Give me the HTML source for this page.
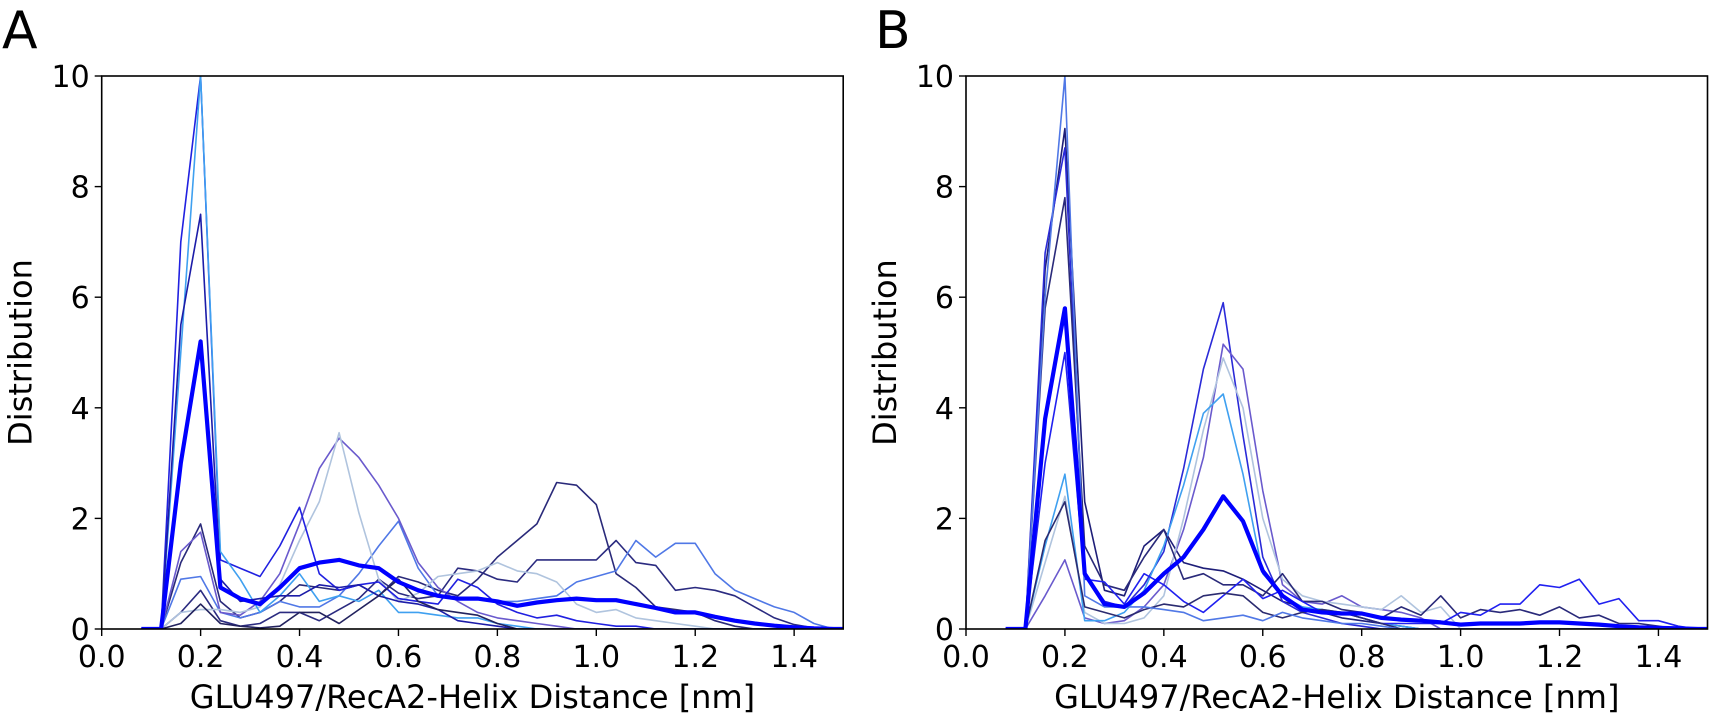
<!DOCTYPE html>
<html><head><meta charset="utf-8"><style>
html,body{margin:0;padding:0;background:#fff;}
svg{display:block;}
text{font-family:"DejaVu Sans","Liberation Sans",sans-serif;fill:#000;}
</style></head><body>
<svg id="s" width="1713" height="716" viewBox="0 0 1713 716" xmlns="http://www.w3.org/2000/svg"></svg>
<script>
const S=document.getElementById('s');
const NS='http://www.w3.org/2000/svg';
function el(t,a,txt){const e=document.createElementNS(NS,t);for(const k in a)e.setAttribute(k,a[k]);if(txt!==undefined)e.textContent=txt;S.appendChild(e);return e;}
const xs=[];for(let i=0;i<37;i++)xs.push(0.08+0.04*i);
function pad(a){while(a.length<37)a.push(0);return a;}
const A={
 mean:[0,0,3.0,5.2,0.75,0.55,0.45,0.75,1.1,1.2,1.25,1.15,1.1,0.85,0.7,0.6,0.55,0.55,0.5,0.42,0.48,0.52,0.55,0.52,0.52,0.45,0.38,0.3,0.3,0.22,0.15,0.1,0.06,0.03,0.01,0,0],
 s:[
 ['#2a2a7a',[0,0,1.2,1.9,0.5,0.2,0.3,0.5,0.8,0.75,0.7,0.8,0.6,0.95,0.85,0.7,0.6,0.9,1.3,1.6,1.9,2.65,2.6,2.25,1.0,0.75,0.4,0.35,0.3,0.15,0.05]],
 ['#2b2b80',[0,0,0.3,0.7,0.15,0.05,0.1,0.3,0.3,0.15,0.35,0.55,0.9,0.65,0.55,0.6,1.1,1.05,0.9,0.85,1.25,1.25,1.25,1.25,1.6,1.2,1.15,0.7,0.75,0.7,0.6,0.4,0.2,0.08,0.02]],
 ['#5078e6',[0,0,0.9,0.95,0.3,0.2,0.3,0.5,0.4,0.4,0.6,1.0,1.5,1.95,1.1,0.6,0.55,0.55,0.5,0.5,0.55,0.6,0.85,0.95,1.05,1.6,1.3,1.55,1.55,1.0,0.7,0.55,0.4,0.3,0.1]],
 ['#6a5acd',[0,0,1.4,1.75,0.3,0.25,0.5,1.0,1.9,2.9,3.45,3.1,2.6,2.0,1.2,0.75,0.5,0.3,0.2,0.15,0.1,0.05]],
 ['#b0c4de',[0,0,0.3,0.35,0.35,0.3,0.4,0.8,1.6,2.3,3.55,2.1,0.9,0.5,0.65,0.95,1.0,1.05,1.2,1.05,1.0,0.85,0.45,0.3,0.35,0.2,0.15,0.1,0.05]],
 ['#2020e0',[0,0,7.0,10.0,1.25,1.1,0.95,1.5,2.2,1.0,0.7,0.8,0.85,0.55,0.5,0.45,0.9,0.75,0.45,0.3,0.2,0.25,0.15,0.1,0.05,0.05]],
 ['#3fa0f0',[0,0,5,10.0,1.4,0.9,0.3,0.6,1.0,0.5,0.6,0.5,0.7,0.3,0.3,0.25,0.2,0.2,0.1,0.05]],
 ['#1c1ca8',[0,0,5.5,7.5,0.9,0.5,0.55,0.6,0.6,0.8,0.75,0.8,0.6,0.5,0.45,0.35,0.15,0.1,0.05]],
 ['#22225e',[0,0,0.1,0.45,0.1,0.05,0.02,0.05,0.3,0.3,0.1,0.35,0.6,0.9,0.5,0.35,0.3,0.25,0.1]]
 ]};
const B={
 mean:[0,0,3.8,5.8,1.0,0.45,0.4,0.65,1.0,1.3,1.8,2.4,1.95,1.05,0.6,0.35,0.3,0.28,0.28,0.2,0.17,0.15,0.12,0.08,0.1,0.1,0.1,0.12,0.12,0.1,0.08,0.05,0.03,0.02,0.01,0,0],
 s:[
 ['#1e1e78',[0,0,6.5,9.05,2.3,0.7,0.6,1.5,1.8,1.2,1.1,1.05,0.9,0.7,0.5,0.4,0.3,0.2,0.15,0.1,0.05]],
 ['#2a2ad8',[0,0,6.8,8.7,1.0,0.5,0.4,0.8,1.4,2.9,4.7,5.9,3.5,1.3,0.5,0.3,0.2,0.1,0.05]],
 ['#6a5acd',[0,0,0.6,1.25,0.2,0.1,0.15,0.4,0.8,1.8,3.1,5.15,4.7,2.5,0.8,0.5,0.45,0.6,0.4,0.35,0.3,0.2]],
 ['#b0c4de',[0,0,1.2,2.4,0.3,0.1,0.1,0.2,0.6,2.0,3.6,4.9,4.0,2.0,0.9,0.6,0.5,0.45,0.4,0.35,0.6,0.3,0.4]],
 ['#3fa0f0',[0,0,1.5,2.8,0.15,0.15,0.3,0.7,1.5,2.6,3.9,4.25,2.8,1.0,0.6,0.4,0.35,0.3,0.2,0.1,0.05]],
 ['#2a2a7a',[0,0,5.8,7.8,1.5,0.8,0.7,1.3,1.8,0.9,1.0,0.8,0.8,0.6,1.0,0.5,0.5,0.35,0.3,0.2,0.4,0.25,0.6,0.2,0.35,0.3,0.35,0.25,0.4,0.2,0.25,0.1,0.1,0.05]],
 ['#2020f0',[0,0,3.0,5.0,0.9,0.85,0.45,1.0,0.8,0.5,0.3,0.6,0.9,0.55,0.7,0.5,0.3,0.3,0.2,0.1,0.1,0.1,0.1,0.3,0.25,0.45,0.45,0.8,0.75,0.9,0.45,0.55,0.15,0.15,0.05]],
 ['#2b2b70',[0,0,1.6,2.3,0.4,0.3,0.2,0.35,0.45,0.4,0.6,0.65,0.6,0.3,0.2,0.3,0.35,0.3,0.2,0.1]],
 ['#5078e6',[0,0,6.0,10.0,0.6,0.4,0.4,0.4,0.35,0.3,0.15,0.2,0.25,0.15,0.3,0.2,0.15,0.1,0.1,0.05]]
 ]};
function panel(x0,D,lab){
 const x1=x0+741.5,y0=76,y1=629;
 const px=v=>x0+v*494.6, py=v=>y1-v*55.3;
 const cid='c'+lab;
 const cp=el('clipPath',{id:cid});
 const r=document.createElementNS(NS,'rect');r.setAttribute('x',x0);r.setAttribute('y',y0);r.setAttribute('width',x1-x0);r.setAttribute('height',y1-y0);cp.appendChild(r);
 const g=el('g',{'clip-path':'url(#'+cid+')'});
 function line(c,d,w){const p=document.createElementNS(NS,'polyline');p.setAttribute('points',pad(d.slice()).map((v,i)=>px(xs[i]).toFixed(1)+','+py(v).toFixed(1)).join(' '));p.setAttribute('fill','none');p.setAttribute('stroke',c);p.setAttribute('stroke-width',w);p.setAttribute('stroke-linejoin','round');g.appendChild(p);}
 D.s.forEach(s=>line(s[0],s[1],1.6));
 line('#0000ff',D.mean,4.2);
 el('rect',{x:x0,y:y0,width:x1-x0,height:y1-y0,fill:'none',stroke:'#000','stroke-width':1.6});
 for(let i=0;i<=7;i++){const x=px(i*0.2);el('line',{x1:x,y1:y1,x2:x,y2:y1+7,stroke:'#000','stroke-width':1.4});el('text',{x:x,y:y1+38,'font-size':30,'text-anchor':'middle'},(i*0.2).toFixed(1));}
 for(let i=0;i<=5;i++){const y=py(i*2);el('line',{x1:x0-7,y1:y,x2:x0,y2:y,stroke:'#000','stroke-width':1.4});el('text',{x:x0-12,y:y+11,'font-size':30,'text-anchor':'end'},String(i*2));}
 el('text',{x:(x0+x1)/2,y:y1+79,'font-size':32,'text-anchor':'middle'},'GLU497/RecA2-Helix Distance [nm]');
 const yl=x0-70;el('text',{x:yl,y:(y0+y1)/2,'font-size':32,'text-anchor':'middle',transform:'rotate(-90 '+yl+' '+(y0+y1)/2+')'},'Distribution');
}
panel(101.7,A,'A');panel(966,B,'B');
el('text',{x:2,y:48,'font-size':52},'A');
el('text',{x:875,y:48,'font-size':52},'B');
</script>
</body></html>
